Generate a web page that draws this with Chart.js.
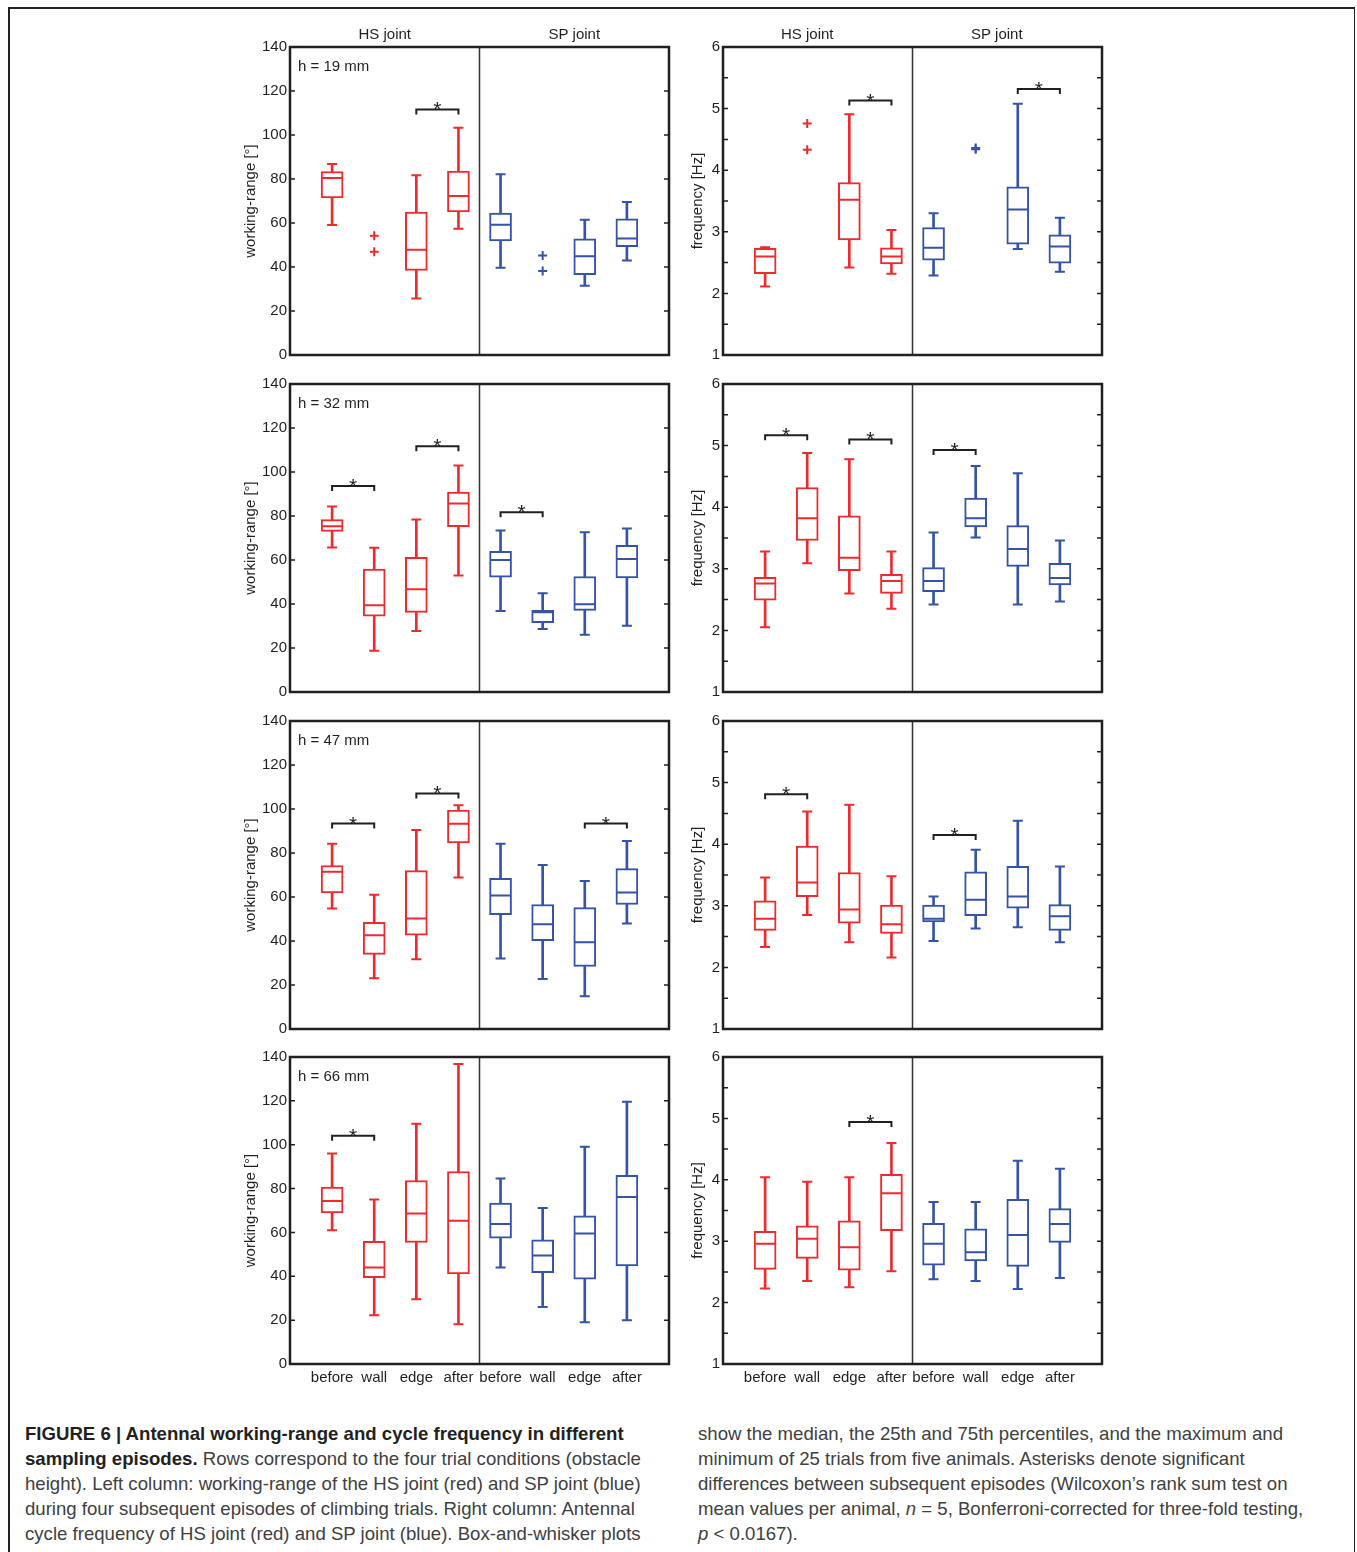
<!DOCTYPE html>
<html lang="en">

<head>
  <meta charset="UTF-8">
  <script src="https://cdn.jsdelivr.net/npm/chart.js"></script>
  <title>Figure 6 | Antennal working-range and cycle frequency</title>
  <style>
    body { margin: 0; background: #fff; width: 1357px; height: 1552px; position: relative; overflow: hidden; }
    .frame { position: absolute; left: 8px; top: 7px; width: 1344px; height: 1600px;
      border-left: 2px solid #231f20; border-top: 2px solid #231f20; border-right: 1px solid #231f20; }
    canvas { position: absolute; }
    .caption { position: absolute; top: 1421px; font-family: "Liberation Sans", Arial, sans-serif;
      font-size: 18.6px; line-height: 25px; color: #404040; white-space: nowrap; }
    .caption b { color: #231f20; }
  </style>
</head>

<body>
  <div class="frame"></div>

  <canvas id="wr19" width="434" height="352" style="left:238px;top:15px"></canvas>
  <canvas id="fq19" width="420" height="352" style="left:685px;top:15px"></canvas>
  <canvas id="wr32" width="434" height="342" style="left:238px;top:362px"></canvas>
  <canvas id="fq32" width="420" height="342" style="left:685px;top:362px"></canvas>
  <canvas id="wr47" width="434" height="342" style="left:238px;top:699px"></canvas>
  <canvas id="fq47" width="420" height="342" style="left:685px;top:699px"></canvas>
  <canvas id="wr66" width="434" height="359" style="left:238px;top:1035px"></canvas>
  <canvas id="fq66" width="420" height="359" style="left:685px;top:1035px"></canvas>

  <div class="caption" style="left:25px">
    <b>FIGURE 6 | Antennal working-range and cycle frequency in different</b><br>
    <b>sampling episodes.</b> Rows correspond to the four trial conditions (obstacle<br>
    height). Left column: working-range of the HS joint (red) and SP joint (blue)<br>
    during four subsequent episodes of climbing trials. Right column: Antennal<br>
    cycle frequency of HS joint (red) and SP joint (blue). Box-and-whisker plots
  </div>
  <div class="caption" style="left:698px">
    show the median, the 25th and 75th percentiles, and the maximum and<br>
    minimum of 25 trials from five animals. Asterisks denote significant<br>
    differences between subsequent episodes (Wilcoxon’s rank sum test on<br>
    mean values per animal, <i>n</i> = 5, Bonferroni-corrected for three-fold testing,<br>
    <i>p</i> &lt; 0.0167).
  </div>

  <script>
    // episodes: HS joint at 1-4, SP joint at 5-8
    var episodes = ['before', 'wall', 'edge', 'after', 'before', 'wall', 'edge', 'after'];
    var positions = [1, 2, 3, 4, 5, 6, 7, 8];
    var heights = ['h = 19 mm', 'h = 32 mm', 'h = 47 mm', 'h = 66 mm'];
    var wrTicks = [0, 20, 40, 60, 80, 100, 120, 140];
    var fqTicks = [1, 1.5, 2, 2.5, 3, 3.5, 4, 4.5, 5, 5.5, 6];

    // each box: [min, q1, median, q3, max]
    var wr19 = [[59.1, 71.4, 80.5, 83.4, 86.8], null, [25.7, 38.4, 47.8, 65.0, 81.7], [57.4, 65.0, 72.3, 83.6, 103.3],
                [39.7, 51.9, 59.2, 64.5, 82.2], null, [31.5, 36.5, 44.9, 52.8, 61.5], [42.9, 49.2, 53.0, 61.9, 69.6]];
    var wr19Out = [[2, 54.2], [2, 46.9], [6, 45.2], [6, 38.2]];
    var wr19Sig = [[3, 4, 111.6]];

    var fq19 = [[2.11, 2.32, 2.60, 2.73, 2.75], null, [2.42, 2.87, 3.52, 3.80, 4.91], [2.32, 2.48, 2.60, 2.74, 3.03],
                [2.29, 2.54, 2.74, 3.07, 3.30], null, [2.72, 2.80, 3.36, 3.73, 5.08], [2.35, 2.49, 2.76, 2.95, 3.23]];
    var fq19Out = [[2, 4.76], [2, 4.33], [6, 4.36], [6, 4.34]];
    var fq19Sig = [[3, 4, 5.13], [7, 8, 5.32]];

    var wr32 = [[65.7, 73.0, 75.3, 78.4, 84.3], [18.7, 34.5, 39.4, 55.9, 65.6], [27.7, 36.2, 46.7, 61.2, 78.4], [53.0, 75.2, 85.7, 90.9, 102.9],
                [36.8, 52.2, 60.0, 63.9, 73.4], [28.6, 31.5, 36.2, 37.1, 44.9], [26.0, 37.1, 39.9, 52.5, 72.6], [30.1, 51.9, 60.4, 66.7, 74.3]];
    var wr32Out = [];
    var wr32Sig = [[1, 2, 93.6], [3, 4, 111.7], [5, 6, 81.7]];

    var fq32 = [[2.05, 2.49, 2.76, 2.86, 3.28], [3.09, 3.46, 3.82, 4.32, 4.88], [2.60, 2.97, 3.18, 3.86, 4.78], [2.35, 2.60, 2.80, 2.91, 3.28],
                [2.42, 2.63, 2.80, 3.02, 3.59], [3.51, 3.68, 3.82, 4.15, 4.67], [2.42, 3.04, 3.32, 3.70, 4.55], [2.47, 2.74, 2.85, 3.09, 3.46]];
    var fq32Out = [];
    var fq32Sig = [[1, 2, 5.17], [3, 4, 5.10], [5, 6, 4.93]];

    var wr47 = [[54.8, 61.9, 71.5, 74.3, 84.2], [23.1, 33.9, 42.6, 48.5, 61.0], [31.7, 42.6, 50.2, 72.0, 90.5], [68.9, 84.6, 93.3, 99.5, 101.7],
                [32.1, 52.0, 60.7, 68.5, 84.2], [22.7, 40.2, 47.6, 56.6, 74.6], [14.9, 28.5, 39.4, 55.2, 67.3], [47.9, 56.6, 62.1, 72.9, 85.5]];
    var wr47Out = [];
    var wr47Sig = [[1, 2, 93.4], [3, 4, 107.1], [7, 8, 93.4]];

    var fq47 = [[2.33, 2.60, 2.79, 3.08, 3.46], [2.85, 3.15, 3.38, 3.97, 4.53], [2.41, 2.72, 2.94, 3.54, 4.64], [2.16, 2.55, 2.70, 3.01, 3.48],
                [2.43, 2.74, 2.79, 3.01, 3.15], [2.63, 2.84, 3.10, 3.55, 3.91], [2.65, 2.96, 3.15, 3.64, 4.38], [2.41, 2.60, 2.83, 3.02, 3.64]];
    var fq47Out = [];
    var fq47Sig = [[1, 2, 4.81], [5, 6, 4.15]];

    var wr66 = [[61.0, 68.9, 74.3, 80.7, 96.0], [22.2, 39.4, 44.0, 55.9, 75.0], [29.5, 55.4, 68.6, 83.7, 109.6], [18.1, 41.1, 65.3, 87.8, 136.8],
                [44.0, 57.4, 63.9, 73.4, 84.6], [26.0, 41.7, 49.5, 56.6, 71.1], [19.0, 38.7, 59.5, 67.6, 99.1], [19.9, 44.7, 76.1, 86.0, 119.6]];
    var wr66Out = [];
    var wr66Sig = [[1, 2, 104.1]];

    var fq66 = [[2.23, 2.54, 2.96, 3.16, 4.04], [2.35, 2.72, 3.04, 3.25, 3.97], [2.25, 2.53, 2.90, 3.33, 4.04], [2.51, 3.17, 3.78, 4.09, 4.60],
                [2.38, 2.61, 2.96, 3.29, 3.64], [2.35, 2.68, 2.82, 3.20, 3.64], [2.22, 2.59, 3.10, 3.68, 4.31], [2.40, 2.98, 3.28, 3.53, 4.18]];
    var fq66Out = [];
    var fq66Sig = [[3, 4, 4.94]];

    var RED = '#ee2a2e';
    var BLUE = '#3553a8';
    var INK = '#231f20';
    var FONT = '"Liberation Sans", Arial, sans-serif';

    function corDe(pos) {
      return pos > 4.5 ? BLUE : RED;
    }

    function montarCaixas(stats, pick) {
      var lista = [];
      for (var i = 0; i < stats.length; i++) {
        if (stats[i]) lista.push({ x: positions[i], y: pick(stats[i]) });
      }
      return lista;
    }

    // medians, caps, frame, inner ticks, divider, brackets and labels
    var extrasPlugin = {
      id: 'extras',
      afterDatasetsDraw: function (chart, args, opts) {
        var ctx = chart.ctx;
        var a = chart.chartArea;
        var x = chart.scales.x;
        var y = chart.scales.y;
        ctx.save();

        // divider HS | SP
        ctx.strokeStyle = '#333';
        ctx.lineWidth = 1.5;
        ctx.beginPath();
        ctx.moveTo(x.getPixelForValue(4.5), a.top);
        ctx.lineTo(x.getPixelForValue(4.5), a.bottom);
        ctx.stroke();

        // medians and whisker caps
        opts.stats.forEach(function (s, i) {
          if (!s) return;
          var px = x.getPixelForValue(positions[i]);
          ctx.strokeStyle = corDe(positions[i]);
          ctx.lineWidth = 2;
          ctx.beginPath();
          ctx.moveTo(px - 10, y.getPixelForValue(s[2]));
          ctx.lineTo(px + 10, y.getPixelForValue(s[2]));
          ctx.moveTo(px - 5, y.getPixelForValue(s[0]));
          ctx.lineTo(px + 5, y.getPixelForValue(s[0]));
          ctx.moveTo(px - 5, y.getPixelForValue(s[4]));
          ctx.lineTo(px + 5, y.getPixelForValue(s[4]));
          ctx.stroke();
        });

        // significance brackets
        ctx.strokeStyle = INK;
        ctx.fillStyle = INK;
        ctx.lineWidth = 2;
        ctx.font = '21px ' + FONT;
        ctx.textAlign = 'center';
        ctx.textBaseline = 'alphabetic';
        opts.sig.forEach(function (b) {
          var x1 = x.getPixelForValue(b[0]);
          var x2 = x.getPixelForValue(b[1]);
          var yv = y.getPixelForValue(b[2]);
          ctx.beginPath();
          ctx.moveTo(x1, yv + 5);
          ctx.lineTo(x1, yv);
          ctx.lineTo(x2, yv);
          ctx.lineTo(x2, yv + 5);
          ctx.stroke();
          ctx.fillText('*', (x1 + x2) / 2, yv + 7);
        });

        // inner ticks, both sides
        ctx.lineWidth = 1.5;
        ctx.beginPath();
        y.ticks.forEach(function (t) {
          var py = y.getPixelForValue(t.value);
          ctx.moveTo(a.left, py);
          ctx.lineTo(a.left + 5, py);
          ctx.moveTo(a.right - 5, py);
          ctx.lineTo(a.right, py);
        });
        ctx.stroke();

        // plot frame
        ctx.lineWidth = 2.5;
        ctx.strokeRect(a.left, a.top, a.right - a.left, a.bottom - a.top);

        // labels
        ctx.font = '15px ' + FONT;
        ctx.textBaseline = 'middle';
        if (opts.hLabel) {
          ctx.textAlign = 'left';
          ctx.fillText(opts.hLabel, a.left + 8, a.top + 20);
        }
        if (opts.headers) {
          ctx.textAlign = 'center';
          ctx.fillText('HS joint', x.getPixelForValue(opts.headers[0]), a.top - 12);
          ctx.fillText('SP joint', x.getPixelForValue(opts.headers[1]), a.top - 12);
        }
        ctx.restore();
      }
    };

    function plotarPainel(id, tipo, stats, outliers, sig, linha) {
      var ehWr = tipo === 'wr';
      var ultima = linha === 3;
      var topo = linha === 0 ? 32 : 22;
      var yTicks = ehWr ? wrTicks : fqTicks;

      new Chart(document.getElementById(id), {
        type: 'bar',
        data: {
          datasets: [
            {
              // whiskers, from min to max
              data: montarCaixas(stats, function (s) { return [s[0], s[4]]; }),
              barThickness: 2,
              grouped: false,
              order: 3,
              backgroundColor: function (c) { return corDe(c.raw && c.raw.x); },
              borderWidth: 0
            },
            {
              // box, from q1 to q3
              data: montarCaixas(stats, function (s) { return [s[1], s[3]]; }),
              barThickness: 22,
              grouped: false,
              order: 2,
              backgroundColor: '#ffffff',
              borderColor: function (c) { return corDe(c.raw && c.raw.x); },
              borderWidth: 2,
              borderSkipped: false
            },
            {
              type: 'scatter',
              data: outliers.map(function (o) { return { x: o[0], y: o[1] }; }),
              order: 1,
              pointStyle: 'cross',
              pointRadius: 4.5,
              pointBorderWidth: 2,
              borderColor: function (c) { return corDe(c.raw && c.raw.x); }
            }
          ]
        },
        options: {
          responsive: false,
          animation: false,
          layout: { autoPadding: false, padding: { top: topo, right: 3, bottom: 4, left: 0 } },
          plugins: {
            legend: { display: false },
            tooltip: { enabled: false },
            extras: {
              stats: stats,
              sig: sig,
              hLabel: ehWr ? heights[linha] : null,
              headers: linha === 0 ? (ehWr ? [2.25, 6.75] : [2.0, 6.5]) : null
            }
          },
          scales: {
            x: {
              type: 'linear',
              display: ultima,
              offset: false,
              min: 0,
              max: 9,
              grid: { display: false, drawTicks: false },
              border: { display: false },
              afterBuildTicks: function (s) { s.ticks = positions.map(function (p) { return { value: p }; }); },
              afterFit: function (s) { s.height = ultima ? 26 : 0; },
              ticks: {
                padding: 5,
                maxRotation: 0,
                autoSkip: false,
                color: INK,
                font: { family: FONT, size: 15 },
                callback: function (v) { return episodes[v - 1]; }
              }
            },
            y: {
              min: yTicks[0],
              max: yTicks[yTicks.length - 1],
              grid: { display: false, drawTicks: false },
              border: { display: false },
              afterBuildTicks: function (s) { s.ticks = yTicks.map(function (v) { return { value: v }; }); },
              afterFit: function (s) { s.width = ehWr ? 52 : 38; },
              title: {
                display: true,
                text: ehWr ? 'working-range [°]' : 'frequency [Hz]',
                color: INK,
                font: { family: FONT, size: 15 },
                padding: { top: 4, bottom: 4 }
              },
              ticks: {
                padding: 3,
                color: INK,
                font: { family: FONT, size: 15 },
                callback: function (v) { return Number.isInteger(v) ? v : ''; }
              }
            }
          }
        },
        plugins: [extrasPlugin]
      });
    }

    plotarPainel('wr19', 'wr', wr19, wr19Out, wr19Sig, 0);
    plotarPainel('fq19', 'fq', fq19, fq19Out, fq19Sig, 0);
    plotarPainel('wr32', 'wr', wr32, wr32Out, wr32Sig, 1);
    plotarPainel('fq32', 'fq', fq32, fq32Out, fq32Sig, 1);
    plotarPainel('wr47', 'wr', wr47, wr47Out, wr47Sig, 2);
    plotarPainel('fq47', 'fq', fq47, fq47Out, fq47Sig, 2);
    plotarPainel('wr66', 'wr', wr66, wr66Out, wr66Sig, 3);
    plotarPainel('fq66', 'fq', fq66, fq66Out, fq66Sig, 3);
  </script>

</body>

</html>
